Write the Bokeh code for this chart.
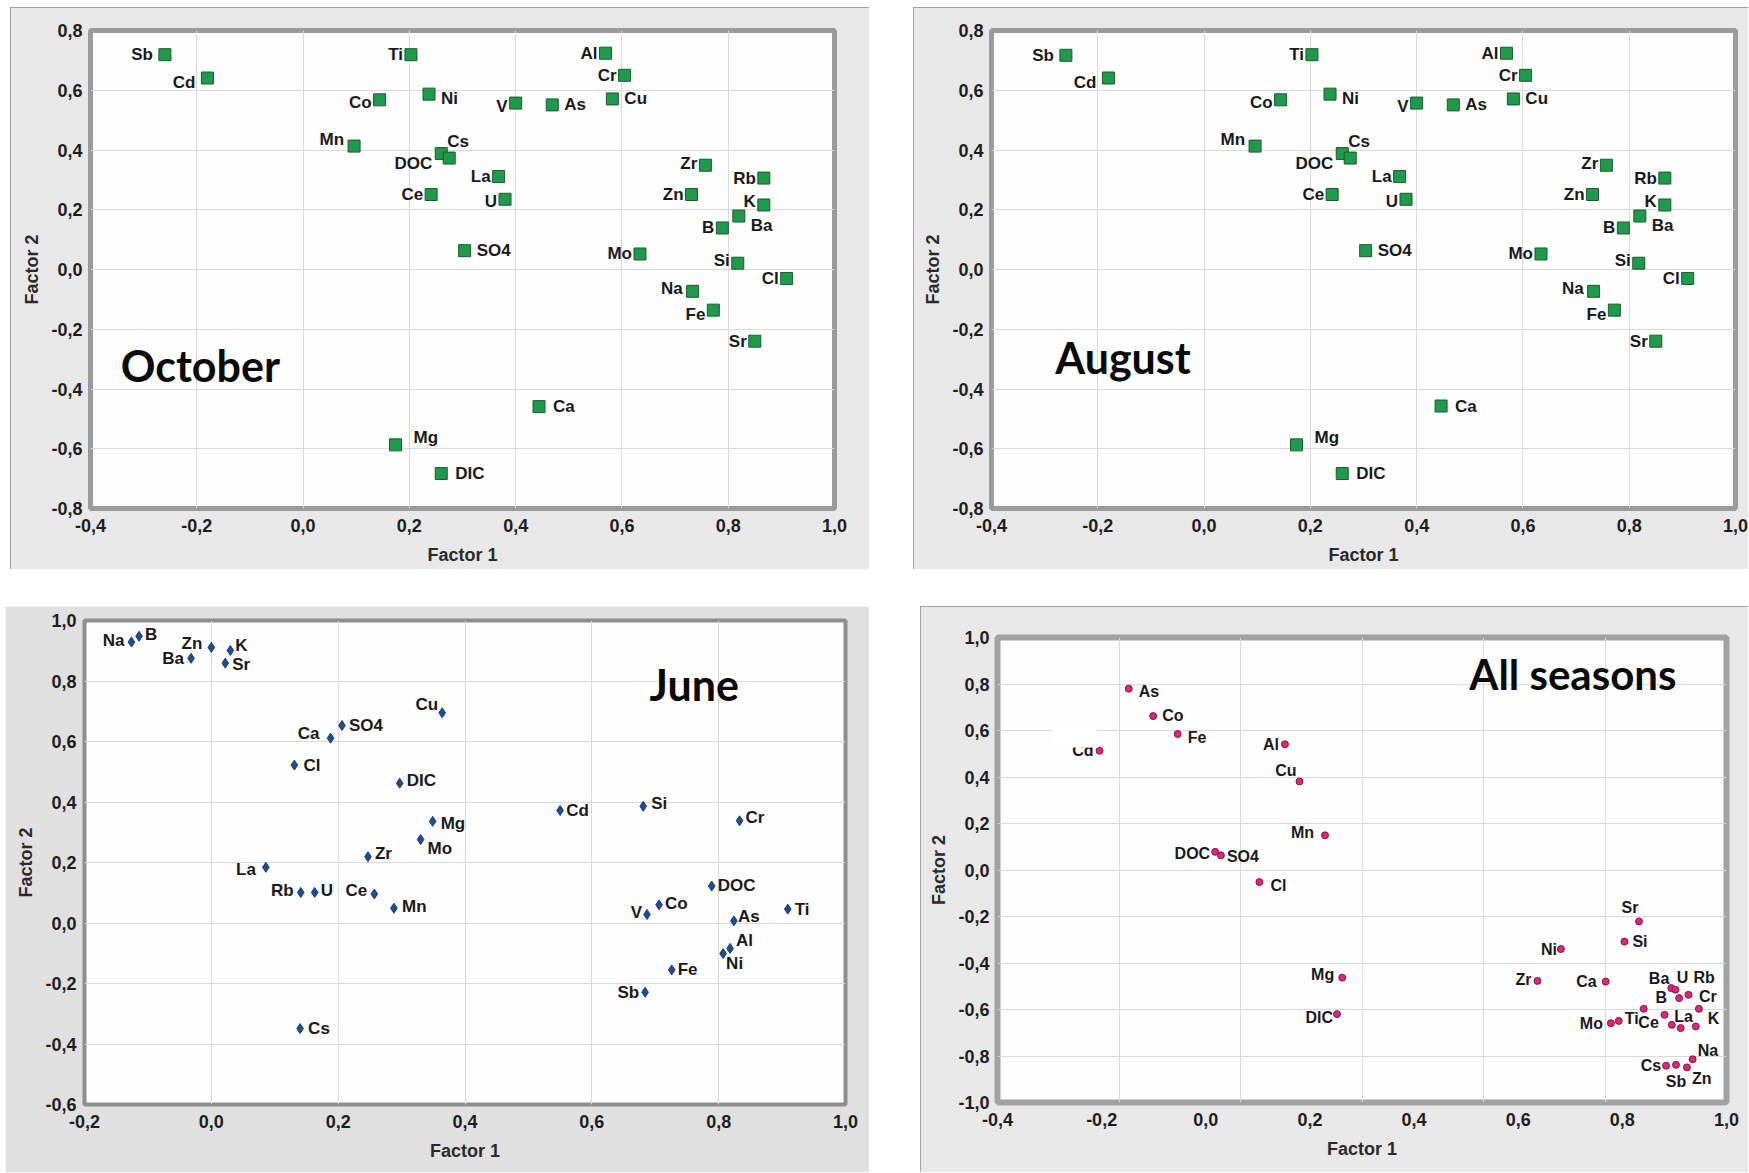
from bokeh.plotting import figure
from bokeh.models import (ColumnDataSource, Range1d, FixedTicker, CustomJSTickFormatter,
                          Label, BoxAnnotation, Spacer)
from bokeh.layouts import row, column
from bokeh.core.properties import value
from bokeh.embed import file_html
from bokeh.resources import INLINE
import numpy as np

# ---------------- data ----------------
oct_names = ["Sb", "Cd", "Ti", "Al", "Cr", "Co", "Ni", "V", "As", "Cu", "Mn", "DOC", "Cs", "La", "Ce", "U",
             "Zr", "Rb", "Zn", "K", "Ba", "B", "SO4", "Mo", "Si", "Cl", "Na", "Fe", "Sr", "Ca", "Mg", "DIC"]
oct_f1 = [-0.260, -0.180, 0.203, 0.569, 0.605, 0.144, 0.237, 0.400, 0.469, 0.582, 0.096, 0.260, 0.275, 0.368,
          0.241, 0.380, 0.757, 0.867, 0.731, 0.867, 0.820, 0.789, 0.304, 0.634, 0.818, 0.910, 0.733, 0.772,
          0.850, 0.444, 0.174, 0.260]
oct_f2 = [0.719, 0.641, 0.719, 0.724, 0.650, 0.568, 0.587, 0.557, 0.551, 0.571, 0.413, 0.388, 0.373, 0.311,
          0.251, 0.235, 0.349, 0.306, 0.251, 0.216, 0.179, 0.139, 0.063, 0.052, 0.021, -0.030, -0.073, -0.136,
          -0.240, -0.459, -0.587, -0.683]

aug_names = ["Sb", "Cd", "Ti", "Al", "Cr", "Co", "Ni", "V", "As", "Cu", "Mn", "DOC", "Cs", "La", "Ce", "U",
             "Zr", "Rb", "Zn", "K", "Ba", "B", "SO4", "Mo", "Si", "Cl", "Na", "Fe", "Sr", "Ca", "Mg", "DIC"]
aug_f1 = [-0.260, -0.180, 0.203, 0.569, 0.605, 0.144, 0.237, 0.400, 0.469, 0.582, 0.096, 0.260, 0.275, 0.368,
          0.241, 0.380, 0.757, 0.867, 0.731, 0.867, 0.820, 0.789, 0.304, 0.634, 0.818, 0.910, 0.733, 0.772,
          0.850, 0.446, 0.174, 0.260]
aug_f2 = [0.717, 0.641, 0.719, 0.724, 0.650, 0.568, 0.587, 0.557, 0.551, 0.571, 0.413, 0.388, 0.373, 0.311,
          0.251, 0.235, 0.349, 0.306, 0.251, 0.216, 0.179, 0.139, 0.063, 0.052, 0.021, -0.030, -0.073, -0.136,
          -0.240, -0.457, -0.587, -0.683]

jun_names = ["Na", "B", "Zn", "Ba", "K", "Sr", "Cu", "SO4", "Ca", "Cl", "DIC", "Cd", "Si", "Cr", "Mg", "Mo",
             "Zr", "La", "Rb", "U", "Ce", "Mn", "DOC", "Co", "V", "Ti", "As", "Al", "Ni", "Fe", "Sb", "Cs"]
jun_f1 = [-0.126, -0.114, 0.000, -0.032, 0.030, 0.022, 0.364, 0.206, 0.188, 0.131, 0.297, 0.550, 0.681, 0.833,
          0.349, 0.330, 0.247, 0.086, 0.141, 0.163, 0.257, 0.288, 0.789, 0.706, 0.687, 0.909, 0.824, 0.818,
          0.807, 0.726, 0.684, 0.140]
jun_f2 = [0.929, 0.948, 0.911, 0.875, 0.901, 0.859, 0.695, 0.653, 0.611, 0.522, 0.462, 0.372, 0.386, 0.338,
          0.336, 0.276, 0.219, 0.184, 0.101, 0.101, 0.096, 0.049, 0.122, 0.060, 0.028, 0.046, 0.007, -0.084,
          -0.101, -0.155, -0.229, -0.349]

all_names = ["As", "Co", "Fe", "Cd", "Al", "Cu", "Mn", "DOC", "SO4", "Cl", "Mg", "DIC", "Sr", "Si", "Ni", "Zr",
             "Ca", "Ba", "U", "Rb", "B", "Cr", "", "", "Ce", "La", "K", "Ti", "Mo", "Na", "Cs", "Sb", "Zn"]
all_f1 = [-0.148, -0.101, -0.054, -0.204, 0.152, 0.180, 0.229, 0.018, 0.029, 0.103, 0.262, 0.252, 0.832, 0.804,
          0.682, 0.637, 0.768, 0.894, 0.902, 0.927, 0.909, 0.947, 0.841, 0.881, 0.895, 0.912, 0.941, 0.793,
          0.778, 0.935, 0.884, 0.903, 0.924]
all_f2 = [0.780, 0.662, 0.585, 0.513, 0.541, 0.381, 0.149, 0.078, 0.063, -0.052, -0.463, -0.620, -0.221, -0.308,
          -0.340, -0.477, -0.480, -0.508, -0.515, -0.537, -0.551, -0.597, -0.597, -0.623, -0.666, -0.680,
          -0.673, -0.649, -0.659, -0.814, -0.842, -0.838, -0.849]

oct_xticks = [-0.4, -0.2, 0.0, 0.2, 0.4, 0.6, 0.8, 1.0]
oct_yticks = [-0.8, -0.6, -0.4, -0.2, 0.0, 0.2, 0.4, 0.6, 0.8]
jun_xticks = [-0.2, 0.0, 0.2, 0.4, 0.6, 0.8, 1.0]
jun_yticks = [-0.6, -0.4, -0.2, 0.0, 0.2, 0.4, 0.6, 0.8, 1.0]
all_xticks = [-0.4, -0.2, 0.0, 0.2, 0.4, 0.6, 0.8, 1.0]
all_yticks = [-1.0, -0.8, -0.6, -0.4, -0.2, 0.0, 0.2, 0.4, 0.6, 0.8, 1.0]

# ---------------- label placement (align, dx px, dy px; dy>0 = down) ----------------
oct_place = {
    "Sb": ("L", -12, 0), "Cd": ("L", -12, 4), "Ti": ("L", -8, 0), "Al": ("L", -8, 0), "Cr": ("L", -8, 0),
    "Co": ("L", -8, 3), "Ni": ("R", 12, 4), "V": ("L", -8, 3), "As": ("R", 12, 0), "Cu": ("R", 12, 0),
    "Mn": ("L", -10, -7), "DOC": ("L", -9, 10), "Cs": ("R", -2, -17), "La": ("L", -8, 0), "Ce": ("L", -8, 0),
    "U": ("L", -8, 2), "Zr": ("L", -8, -2), "Rb": ("L", -8, 0), "Zn": ("L", -8, 0), "K": ("L", -8, -3),
    "Ba": ("R", 12, 9), "B": ("L", -8, 0), "SO4": ("R", 12, 0), "Mo": ("L", -8, 0), "Si": ("L", -8, -3),
    "Cl": ("L", -8, 0), "Na": ("L", -10, -3), "Fe": ("L", -8, 4), "Sr": ("L", -8, 0), "Ca": ("R", 14, 0),
    "Mg": ("R", 18, -7), "DIC": ("R", 14, 0),
}
jun_place = {
    "Na": ("L", -7, -1), "B": ("R", 6, -2), "Zn": ("L", -9, -4), "Ba": ("L", -7, 0), "K": ("R", 5, -5),
    "Sr": ("R", 7, 1), "Cu": ("L", -4, -8), "SO4": ("R", 7, 0), "Ca": ("L", -11, -5), "Cl": ("R", 9, 0),
    "DIC": ("R", 7, -3), "Cd": ("R", 6, 0), "Si": ("R", 8, -3), "Cr": ("R", 6, -3), "Mg": ("R", 8, 2),
    "Mo": ("R", 7, 9), "Zr": ("R", 7, -3), "La": ("L", -10, 2), "Rb": ("L", -7, -2), "U": ("R", 6, -2),
    "Ce": ("L", -7, -3), "Mn": ("R", 8, -2), "DOC": ("R", 6, -1), "Co": ("R", 6, -1), "V": ("L", -5, -2),
    "Ti": ("R", 7, 0), "As": ("R", 4, -4), "Al": ("R", 6, -8), "Ni": ("R", 3, 10), "Fe": ("R", 6, 0),
    "Sb": ("L", -6, 0), "Cs": ("R", 8, 0),
}
all_place = {
    "As": ("R", 10, 3), "Co": ("R", 9, -1), "Fe": ("R", 10, 4), "Cd": ("L", -6, 0), "Al": ("L", -6, 0),
    "Cu": ("L", -3, -11), "Mn": ("L", -11, -3), "DOC": ("L", -5, 2), "SO4": ("R", 6, 1), "Cl": ("R", 11, 3),
    "Mg": ("L", -8, -3), "DIC": ("L", -4, 3), "Sr": ("C", -9, -14), "Si": ("R", 8, 0), "Ni": ("L", -4, 0),
    "Zr": ("L", -6, -1), "Ca": ("L", -9, 0), "Ba": ("L", -2, -10), "U": ("C", 7, -12), "Rb": ("R", 5, -17),
    "B": ("L", -12, -1), "Cr": ("R", 0, -12), "Mo": ("L", -8, 0), "Ti": ("R", 6, -2), "Ce": ("L", -13, -2),
    "La": ("C", 3, -12), "K": ("R", 12, -8), "Na": ("R", 5, -9), "Cs": ("L", -5, 0), "Sb": ("C", 0, 17),
    "Zn": ("R", 5, 11), "": ("R", 0, 0),
}

ALIGN = {"L": "right", "R": "left", "C": "center"}
TICK_FMT = """
const v = Math.abs(tick) < 1e-9 ? 0 : tick;
return v.toFixed(1).replace('.', ',');
"""
FONT = "Liberation Sans"


def panel(width, height, xticks, yticks, borders, border_fill, frame_color, frame_w, xgrid=None):
    l, r, t, b = borders
    p = figure(width=width, height=height, title=None,
               x_range=Range1d(xticks[0], xticks[-1]), y_range=Range1d(yticks[0], yticks[-1]),
               output_backend="svg", toolbar_location=None,
               min_border_left=l, min_border_right=r, min_border_top=t, min_border_bottom=b)
    p.frame_align = False
    p.background_fill_color = "#fefefe"
    p.border_fill_color = border_fill
    p.outline_line_color = frame_color
    p.outline_line_width = frame_w
    p.xaxis.ticker = FixedTicker(ticks=xticks)
    p.yaxis.ticker = FixedTicker(ticks=yticks)
    p.xgrid.ticker = FixedTicker(ticks=list(xgrid) if xgrid is not None else xticks)
    p.ygrid.ticker = FixedTicker(ticks=yticks)
    for g in (p.xgrid[0], p.ygrid[0]):
        g.grid_line_color = "#d9d9d9"
        g.grid_line_width = 1
    for ax in (p.xaxis[0], p.yaxis[0]):
        ax.formatter = CustomJSTickFormatter(code=TICK_FMT)
        ax.axis_line_color = None
        ax.major_tick_line_color = None
        ax.minor_tick_line_color = None
        ax.major_tick_in = 0
        ax.major_tick_out = 0
        ax.minor_tick_in = 0
        ax.minor_tick_out = 0
        ax.major_label_text_font = FONT
        ax.major_label_text_font_style = "bold"
        ax.major_label_text_font_size = "18px"
        ax.major_label_text_color = "#1e1e1e"
        ax.axis_label_text_font = FONT
        ax.axis_label_text_font_style = "bold"
        ax.axis_label_text_font_size = "18px"
        ax.axis_label_text_color = "#2a2a2a"
    p.xaxis.axis_label = "Factor 1"
    p.yaxis.axis_label = "Factor 2"
    p.xaxis.major_label_standoff = 10
    p.xaxis.axis_label_standoff = 10
    p.yaxis.major_label_standoff = 8
    p.yaxis.axis_label_standoff = 6
    return p


def add_points(p, names, f1, f2, place, marker, size, fill, line, font_size):
    aligns, dxs, dys = [], [], []
    for n in names:
        a, dx, dy = place[n]
        aligns.append(ALIGN[a])
        dxs.append(dx)
        dys.append(dy)
    src = ColumnDataSource(dict(x=f1, y=f2, name=names, align=aligns, dx=dxs, dy=dys))
    p.scatter("x", "y", source=src, marker=marker, size=size, fill_color=fill, line_color=line, line_width=1)
    p.text("x", "y", text="name", source=src, text_align="align", x_offset="dx", y_offset="dy",
           text_baseline="middle", text_font=value(FONT), text_font_style="bold",
           text_font_size=value(font_size), text_color="#1a1a1a")


def add_title(p, text, x, y, size="43px"):
    p.add_layout(Label(x=x, y=y, text=text, text_font="Lato", text_font_style="bold",
                       text_font_size=size, text_baseline="middle", text_align="left", text_color="#0a0a0a"))


BORDER = {"outline": "1px solid #8c8c8c", "outline-offset": "-1px"}

# October  (page box x 10..869, y 7..569; frame 90..834 x 30..508)
p_oct = panel(859, 562, oct_xticks, oct_yticks, (80, 35, 23, 61), "#e8e8e8", "#9b9b9b", 5)
add_points(p_oct, oct_names, oct_f1, oct_f2, oct_place, "square", 12, "#1f9a4a", "#1d5a2f", "17px")
add_title(p_oct, "October", -0.343, -0.323)
p_oct.styles = BORDER

# August  (page box x 913..1748)
p_aug = panel(835, 562, oct_xticks, oct_yticks, (78, 13, 23, 61), "#e8e8e8", "#9b9b9b", 5)
add_points(p_aug, aug_names, aug_f1, aug_f2, oct_place, "square", 12, "#1f9a4a", "#1d5a2f", "17px")
add_title(p_aug, "August", -0.280, -0.295)
p_aug.styles = BORDER

# June  (page box x 5..869, y 606..1172)
p_jun = panel(864, 566, jun_xticks, jun_yticks, (79, 24, 14, 68), "#e0e0e0", "#8e8e8e", 4)
add_points(p_jun, jun_names, jun_f1, jun_f2, jun_place, "diamond", 10, "#1f4e8e", "#1a3f73", "17px")
add_title(p_jun, "June", 0.691, 0.79)

# All seasons  (page box x 920..1748)
all_xgrid = np.linspace(all_xticks[0], all_xticks[-1], 7)
p_all = panel(828, 566, all_xticks, all_yticks, (77, 22, 31, 70), "#e8e8e8", "#a2a2a2", 6, xgrid=all_xgrid)
add_points(p_all, all_names, all_f1, all_f2, all_place, "circle", 7, "#e0237c", "#7d1c48", "16px")
add_title(p_all, "All seasons", 0.506, 0.841, "42px")
p_all.add_layout(BoxAnnotation(left=-0.295, right=-0.207, bottom=0.527, top=0.630,
                               fill_color="white", fill_alpha=1.0, line_color=None))
p_all.styles = BORDER

top = row(Spacer(width=10, height=562), p_oct, Spacer(width=44, height=562), p_aug)
bottom = row(Spacer(width=5, height=566), p_jun, Spacer(width=51, height=566), p_all)
layout = column(Spacer(width=1748, height=7), top, Spacer(width=1748, height=37), bottom)

open("out.html", "w").write(file_html(layout, INLINE))
